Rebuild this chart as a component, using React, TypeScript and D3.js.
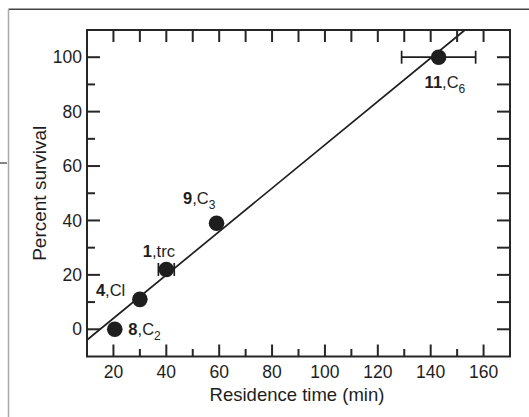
import React from "react";
import * as d3 from "d3";

// ---- data ----
const residenceTime = [20.5, 30, 40, 59, 143];
const percentSurvival = [0, 11, 22, 39, 100];
const timeError = [0, 0, 3, 0, 14];
const compoundNumber = ["8", "4", "1", "9", "11"];
const compoundName = ["C", "Cl", "trc", "C", "C"];
const compoundSub = ["2", "", "", "3", "6"];
const fitSlope = 0.797;
const fitIntercept = -11.9;
const xMajorTicks = [20, 40, 60, 80, 100, 120, 140, 160];
const xMinorTicks = [30, 50, 70, 90, 110, 130, 150];
const yMajorTicks = [0, 20, 40, 60, 80, 100];
const yMinorTicks = [10, 30, 50, 70, 90];
const topTicks = d3.range(20, 161, 10);
const rightTicks = d3.range(0, 101, 10);

// ---- layout ----
const W = 529;
const H = 417;
const L = 87, R = 510, T = 30, B = 356.5;
const labelOffsets = [
  [13.6, 5.7],
  [-44, -3.6],
  [-23.5, -12.5],
  [-33.5, -19],
  [-14, 30.4],
];

const ink = "#1e1e1e";
const axisInk = "#262626";
const font = "Liberation Sans, Arial, Helvetica, sans-serif";

export default function App() {
  const x = d3.scaleLinear().domain([10, 170]).range([L, R]);
  const y = d3.scaleLinear().domain([-10, 110]).range([B, T]);

  const x0 = 10;
  const x1 = (110 - fitIntercept) / fitSlope;
  const fitLine = d3.line<number>()
    .x((d) => x(d))
    .y((d) => y(fitSlope * d + fitIntercept))([x0, x1]);

  const sw = 2;
  return (
    <svg
      width={W}
      height={H}
      style={{ position: "absolute", left: 0, top: 0, background: "#fff" }}
      fontFamily={font}
    >
      {/* outer frame */}
      <line x1={8.5} y1={9.3} x2={W} y2={9.3} stroke="#444" strokeWidth={1.5} />
      <line x1={8.5} y1={9.3} x2={8.5} y2={H} stroke="#aaa" strokeWidth={1.5} />
      <line x1={0} y1={163} x2={7} y2={163} stroke="#333" strokeWidth={1.2} />

      {/* fit line */}
      <path d={fitLine ?? ""} fill="none" stroke={ink} strokeWidth={1.7} />

      {/* plot box */}
      <rect x={L} y={T} width={R - L} height={B - T} fill="none" stroke={axisInk} strokeWidth={sw} />

      {/* bottom ticks */}
      {xMajorTicks.map((t) => (
        <line key={"xb" + t} x1={x(t)} x2={x(t)} y1={B} y2={B - 12} stroke={axisInk} strokeWidth={sw} />
      ))}
      {xMinorTicks.map((t) => (
        <line key={"xm" + t} x1={x(t)} x2={x(t)} y1={B} y2={B - 7.5} stroke={axisInk} strokeWidth={sw} />
      ))}
      {/* top ticks */}
      {topTicks.map((t) => (
        <line key={"xt" + t} x1={x(t)} x2={x(t)} y1={T} y2={T + 12} stroke={axisInk} strokeWidth={sw} />
      ))}
      {/* left ticks */}
      {yMajorTicks.map((t) => (
        <line key={"yl" + t} x1={L} x2={L + 13} y1={y(t)} y2={y(t)} stroke={axisInk} strokeWidth={sw} />
      ))}
      {yMinorTicks.map((t) => (
        <line key={"ym" + t} x1={L} x2={L + 8} y1={y(t)} y2={y(t)} stroke={axisInk} strokeWidth={sw} />
      ))}
      {/* right ticks */}
      {rightTicks.map((t) => (
        <line key={"yr" + t} x1={R} x2={R - 13} y1={y(t)} y2={y(t)} stroke={axisInk} strokeWidth={sw} />
      ))}

      {/* tick labels */}
      {xMajorTicks.map((t) => (
        <text key={"xl" + t} x={x(t)} y={377.5} textAnchor="middle" fontSize={17.5} fill={ink}>
          {t}
        </text>
      ))}
      {yMajorTicks.map((t) => (
        <text key={"yt" + t} x={82} y={y(t) + 6.2} textAnchor="end" fontSize={17.5} fill={ink}>
          {t}
        </text>
      ))}

      {/* axis titles */}
      <text x={297} y={401} textAnchor="middle" fontSize={18.5} fill={ink}>
        Residence time (min)
      </text>
      <text
        transform={`translate(45.5, ${(T + B) / 2}) rotate(-90)`}
        textAnchor="middle"
        fontSize={19}
        fill={ink}
      >
        Percent survival
      </text>

      {/* error bars */}
      {residenceTime.map((t, i) =>
        timeError[i] > 0 ? (
          <g key={"e" + i} stroke={ink} strokeWidth={1.7}>
            <line x1={x(t - timeError[i])} x2={x(t + timeError[i])} y1={y(percentSurvival[i])} y2={y(percentSurvival[i])} />
            <line x1={x(t - timeError[i])} x2={x(t - timeError[i])} y1={y(percentSurvival[i]) - 6.5} y2={y(percentSurvival[i]) + 6.5} />
            <line x1={x(t + timeError[i])} x2={x(t + timeError[i])} y1={y(percentSurvival[i]) - 6.5} y2={y(percentSurvival[i]) + 6.5} />
          </g>
        ) : null
      )}

      {/* points */}
      {residenceTime.map((t, i) => (
        <circle key={"p" + i} cx={x(t)} cy={y(percentSurvival[i])} r={7.8} fill={ink} />
      ))}

      {/* labels */}
      {residenceTime.map((t, i) => (
        <text
          key={"l" + i}
          x={x(t) + labelOffsets[i][0]}
          y={y(percentSurvival[i]) + labelOffsets[i][1]}
          fontSize={16.5}
          fill={ink}
        >
          <tspan fontWeight="bold">{compoundNumber[i]}</tspan>
          <tspan>,{compoundName[i]}</tspan>
          {compoundSub[i] ? (
            <tspan fontSize={12} dy={5}>
              {compoundSub[i]}
            </tspan>
          ) : null}
        </text>
      ))}
    </svg>
  );
}
